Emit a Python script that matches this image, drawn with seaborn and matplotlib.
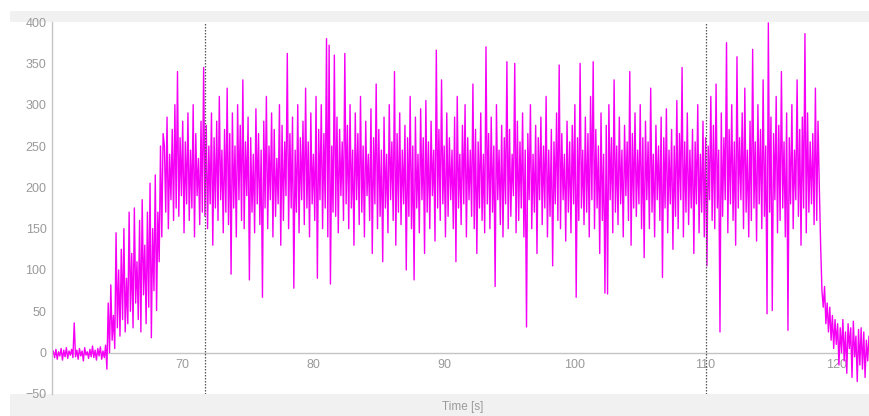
import numpy as np
import pandas as pd
import matplotlib.pyplot as plt
import seaborn as sns
from matplotlib.patches import Rectangle
from matplotlib.ticker import MultipleLocator

# sampled signal, one value every 0.1 s starting at 60.0 s
t_start = 60.0
dt = 0.1

# 60.0 - 64.1 s, idle
baseline = [-3, 2, -6, 4, -8, 1, -4, 5, -9, 3,
            -5, 6, -7, 2, -3, 4, -6, 36, -5, 3,
            -8, 5, -4, 2, -10, 6, -3, 1, -7, 4,
            -5, 8, -6, 3, -9, 5, -4, 7, -8, 2,
            -6, 9]

# 64.2 - 68.5 s, run-up
ramp = [-20, 60, 0, 82, 15, 45, 5, 145, 30, 100,
        20, 125, 40, 150, 25, 90, 35, 170, 50, 120,
        30, 175, 60, 110, 40, 160, 25, 185, 70, 130,
        35, 170, 55, 205, 18, 150, 75, 215, 51, 170,
        110, 250, 140, 265]

# 68.6 - 78.5 s
plateau_a = [
    250, 170, 285, 150, 240, 185, 270, 160, 300, 175,
    340, 165, 260, 190, 280, 145, 255, 180, 290, 160,
    245, 175, 300, 140, 265, 190, 235, 155, 280, 170,
    345, 165, 275, 150, 250, 180, 290, 130, 260, 175,
    280, 160, 310, 185, 245, 145, 270, 170, 320, 155,
    265, 95, 290, 175, 250, 140, 300, 185, 275, 160,
    330, 150, 255, 190, 285, 88, 260, 170, 240, 145,
    295, 180, 265, 155, 245, 67, 280, 175, 310, 150,
    250, 185, 290, 140, 270, 165, 235, 180, 300, 130,
    275, 160, 255, 190, 362, 150, 265, 175, 285, 78,
]

# 78.6 - 88.5 s
plateau_b = [
    245, 170, 300, 145, 260, 185, 280, 155, 320, 175,
    255, 140, 290, 180, 240, 160, 310, 90, 270, 185,
    300, 150, 265, 175, 380, 140, 372, 83, 250, 170,
    360, 165, 285, 145, 270, 190, 255, 160, 362, 180,
    275, 150, 300, 175, 245, 130, 290, 185, 265, 155,
    310, 170, 250, 140, 280, 190, 240, 160, 295, 120,
    260, 180, 325, 150, 270, 165, 245, 110, 285, 175,
    240, 145, 300, 185, 255, 160, 340, 130, 265, 170,
    290, 155, 245, 180, 275, 100, 260, 165, 310, 150,
    250, 88, 285, 175, 240, 145, 295, 185, 260, 120,
]

# 88.6 - 98.5 s
plateau_c = [
    305, 170, 255, 150, 280, 190, 245, 135, 366, 175,
    270, 160, 330, 180, 250, 140, 290, 165, 260, 185,
    245, 150, 285, 110, 310, 175, 240, 155, 275, 180,
    300, 140, 260, 185, 245, 165, 325, 150, 270, 120,
    255, 175, 290, 160, 240, 145, 370, 180, 265, 150,
    285, 170, 250, 80, 300, 185, 245, 155, 275, 140,
    260, 180, 352, 150, 270, 165, 240, 190, 350, 145,
    280, 160, 255, 175, 290, 140, 245, 31, 265, 185,
    300, 150, 240, 170, 275, 120, 260, 185, 285, 155,
    250, 175, 310, 140, 245, 165, 270, 105, 255, 180,
]

# 98.6 - 108.5 s
plateau_d = [
    290, 160, 348, 150, 265, 185, 240, 135, 280, 170,
    255, 145, 275, 180, 300, 67, 260, 160, 350, 175,
    245, 155, 285, 170, 265, 140, 310, 185, 352, 150,
    270, 175, 250, 120, 290, 160, 240, 72, 275, 71,
    300, 185, 260, 145, 330, 170, 250, 155, 285, 180,
    245, 140, 275, 190, 255, 160, 340, 130, 265, 175,
    290, 165, 245, 180, 300, 150, 260, 115, 280, 185,
    255, 150, 320, 170, 240, 140, 275, 185, 250, 160,
    285, 91, 260, 175, 295, 145, 245, 180, 270, 125,
    250, 165, 305, 150, 265, 185, 345, 140, 255, 170,
]

# 108.6 - 118.5 s
plateau_e = [
    290, 155, 245, 175, 270, 120, 255, 180, 300, 145,
    240, 170, 280, 140, 260, 105, 250, 185, 310, 160,
    275, 150, 325, 175, 245, 25, 290, 165, 260, 185,
    375, 145, 270, 180, 300, 160, 255, 130, 358, 175,
    260, 185, 290, 150, 320, 170, 245, 140, 280, 160,
    367, 175, 255, 135, 300, 180, 270, 150, 330, 165,
    250, 47, 399, 170, 285, 51, 265, 185, 310, 145,
    275, 160, 340, 175, 255, 140, 290, 27, 260, 180,
    300, 150, 245, 185, 330, 165, 270, 130, 285, 175,
    386, 145, 290, 170, 255, 180, 265, 155, 320, 160,
]

# 118.6 - 122.5 s, shut-down
tail = [280, 200, 130, 75, 55, 80, 35, 60, 25, 55,
        15, 45, 5, 40, 10, 35, -15, 30, 0, 40,
        -10, 25, -25, 35, 5, 30, -30, 38, -5, 20,
        -35, 28, -15, 30, -20, 25, -30, 15, -10, 20]

markers = [71.7, 110.0]

values = baseline + ramp + plateau_a + plateau_b + plateau_c + plateau_d + plateau_e + tail
time = t_start + dt * np.arange(len(values))
df = pd.DataFrame({"Time": time, "Signal": values})

sns.set_style("white")
plt.rcParams["font.family"] = ["Liberation Sans", "DejaVu Sans"]

fig = plt.figure(figsize=(8.69, 4.16), dpi=100)
fig.patch.set_facecolor("white")
# light grey bands above and below the plot area
fig.patches.append(Rectangle((10 / 869, 0), 1, 0.053, transform=fig.transFigure,
                             facecolor="#f1f1f1", edgecolor="none", zorder=0))
fig.patches.append(Rectangle((10 / 869, 0.947), 1, 0.0265, transform=fig.transFigure,
                             facecolor="#f1f1f1", edgecolor="none", zorder=0))

ax = fig.add_axes([52 / 869, 0.053, 1 - 52 / 869, 0.894])
ax.set_zorder(2)
sns.lineplot(data=df, x="Time", y="Signal", ax=ax, estimator=None, sort=False,
             color="#f500f5", linewidth=1.0)

for m in markers:
    ax.axvline(m, color="#555555", linestyle=(0, (1.2, 1.2)), linewidth=0.9)

ax.set_xlim(60, 122.5)
ax.set_ylim(-50, 400)
ax.set_xticks([70, 80, 90, 100, 110, 120])
ax.set_yticks(np.arange(-50, 401, 50))
ax.xaxis.set_minor_locator(MultipleLocator(5))
ax.yaxis.set_minor_locator(MultipleLocator(25))

ax.spines["bottom"].set_position(("data", 0))
for s in ["top", "right"]:
    ax.spines[s].set_visible(False)
for s in ["bottom", "left"]:
    ax.spines[s].set_color("#c4c4c4")
    ax.spines[s].set_linewidth(1.0)
ax.spines["bottom"].set_zorder(0.5)

ax.tick_params(which="major", colors="#b8b8b8", labelcolor="#9a9a9a",
               labelsize=9, length=3, width=0.8, pad=1)
ax.tick_params(which="minor", colors="#b8b8b8", length=2, width=0.8)
ax.tick_params(axis="x", which="both", direction="out", pad=1.5)
ax.set_xlabel("")
ax.set_ylabel("")

fig.text(463 / 869, 1 - 407 / 416, "Time [s]", ha="center", va="center",
         fontsize=8.5, color="#9a9a9a")

plt.savefig("out.png", dpi=100)
